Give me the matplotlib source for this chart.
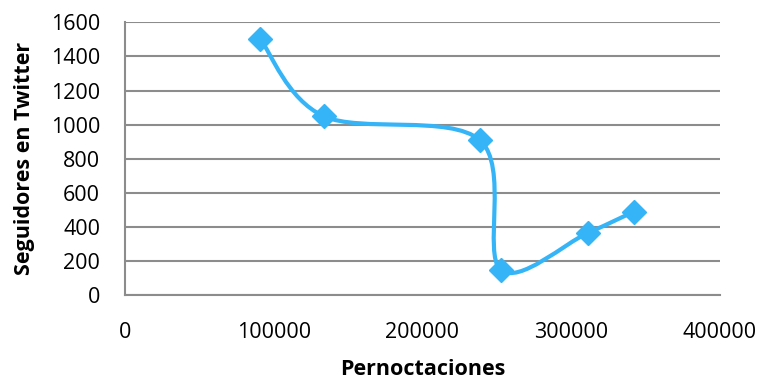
import numpy as np
import matplotlib.pyplot as plt
from matplotlib.path import Path
from matplotlib.patches import PathPatch

plt.rcParams['font.family'] = ['Open Sans', 'DejaVu Sans']

# data
pernoctaciones = [91000, 133500, 238500, 252500, 311000, 342000]
seguidores = [1500, 1050, 910, 150, 365, 490]

xticks = [0, 100000, 200000, 300000, 400000]
yticks = [0, 200, 400, 600, 800, 1000, 1200, 1400, 1600]

color = '#35B5F7'
grid_color = '#8c8c8c'

fig = plt.figure(figsize=(7.62, 3.82), dpi=100)
ax = fig.add_axes([125/762, 1 - 295.3/382, 595/762, 273/382])

# smoothed line like the spreadsheet one: cubic bezier segments,
# control points from neighbouring points (Catmull-Rom style)
pts = np.column_stack([pernoctaciones, seguidores]).astype(float)
n = len(pts)
verts = [pts[0]]
codes = [Path.MOVETO]
for i in range(n - 1):
    p0 = pts[i - 1] if i > 0 else pts[i]
    p1 = pts[i]
    p2 = pts[i + 1]
    p3 = pts[i + 2] if i + 2 < n else pts[i + 1]
    c1 = p1 + (p2 - p0) / 6
    c2 = p2 - (p3 - p1) / 6
    verts += [c1, c2, p2]
    codes += [Path.CURVE4] * 3
patch = PathPatch(Path(verts, codes), facecolor='none', edgecolor=color,
                  lw=3, capstyle='round', joinstyle='round', zorder=3)
ax.add_patch(patch)
ax.plot(pernoctaciones, seguidores, 'D', color=color, markersize=12,
        linestyle='none', zorder=4)

ax.set_xlim(0, 400000)
ax.set_ylim(0, 1600)
ax.set_xticks(xticks)
ax.set_xticklabels([str(t) for t in xticks])
ax.set_yticks(yticks)
ax.set_yticklabels([str(t) for t in yticks])
ax.tick_params(length=0, labelsize=15.5, colors='black')
ax.tick_params(axis='x', pad=19)
ax.tick_params(axis='y', pad=18)

ax.yaxis.grid(True, color=grid_color, lw=1.5)
ax.set_axisbelow(True)
for s in ['top', 'right']:
    ax.spines[s].set_visible(False)
for s in ['left', 'bottom']:
    ax.spines[s].set_color(grid_color)
    ax.spines[s].set_linewidth(1.5)

ax.set_xlabel('Pernoctaciones', fontsize=15.5, fontweight='bold')
ax.set_ylabel('Seguidores en Twitter', fontsize=15.5, fontweight='bold')
ax.xaxis.set_label_coords(0.5, -0.232)
ax.yaxis.set_label_coords(-0.152, 0.5)

fig.savefig('out.png', dpi=100)
